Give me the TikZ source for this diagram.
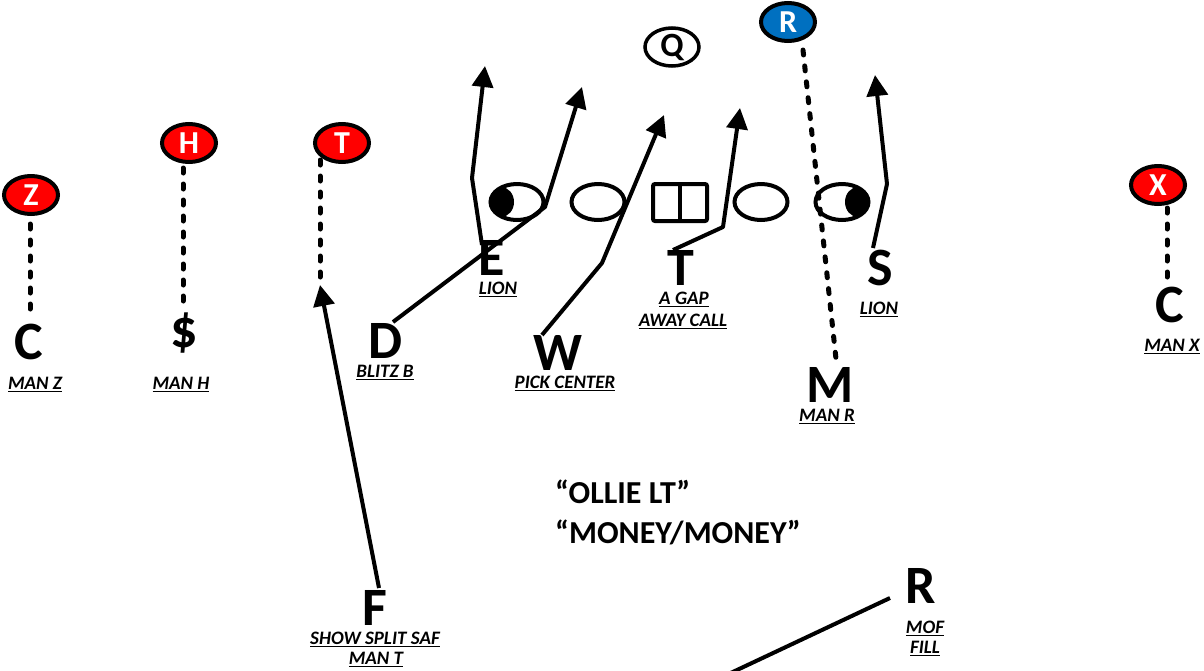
\documentclass[tikz,border=0pt]{standalone}
\usepackage{fontspec}
\setmainfont{Carlito}
\usetikzlibrary{arrows.meta,shapes.geometric}
\definecolor{pred}{HTML}{FF0000}
\definecolor{pblue}{HTML}{0070C0}
\newcommand\ulab[1]{\setbox0\hbox{#1}\rlap{\vrule width\wd0 height -1.6pt depth 3pt}\box0}
\begin{document}
\begin{tikzpicture}[x=1pt,y=-1pt,
  player/.style={ellipse,draw=black,line width=4pt,minimum width=54pt,minimum height=38pt,inner sep=0pt,text=white,font=\fontsize{32}{32}\selectfont\bfseries},
  lineman/.style={ellipse,draw=black,line width=4pt,minimum width=53pt,minimum height=36pt,inner sep=0pt},
  defender/.style={anchor=base,inner sep=0pt,font=\fontsize{54}{54}\selectfont\bfseries},
  note/.style={anchor=base,inner sep=0pt,font=\fontsize{19}{19}\selectfont\bfseries\itshape},
  call/.style={anchor=base west,inner sep=0pt,font=\fontsize{32}{32}\selectfont\bfseries},
  route/.style={line width=4pt,line join=round,-{Triangle[length=21pt,width=21pt]}},
  blitz/.style={line width=4pt,line join=round},
  manline/.style={line width=5pt,line cap=round,dash pattern=on 5pt off 11pt}
]
\useasboundingbox (0,0) rectangle (1204,670);
\clip (0,0) rectangle (1204,670);

% offensive line
\begin{scope}
  \clip (517,202) ellipse [x radius=26.5, y radius=18];
  \fill (501,202) ellipse [x radius=13, y radius=15];
\end{scope}
\begin{scope}
  \clip (842,202) ellipse [x radius=26.5, y radius=18];
  \fill (858,202) ellipse [x radius=13, y radius=15];
\end{scope}
\node[lineman] (LT) at (517,202) {};
\node[lineman] (LG) at (598,202) {};
\node[draw,line width=4pt,minimum width=54pt,minimum height=37pt,rounded corners=2pt,inner sep=0pt] (Cn) at (680,202.5) {};
\draw[line width=4pt] (Cn.north) -- (Cn.south);
\node[lineman] (RG) at (761,202) {};
\node[lineman] (RT) at (842,202) {};

% skill players
\node[player,fill=pred] (Z) at (31,195) {Z};
\node[player,fill=pred] (H) at (189,143) {H};
\node[player,fill=pred] (Tp) at (342,143) {T};
\node[player,fill=pblue] (R) at (788,22) {R};
\node[player,fill=pred] (X) at (1158,185) {X};
\node[player,fill=white,text=black,line width=3.5pt,font=\fontsize{34}{34}\selectfont\bfseries] (Q) at (672,47) {Q};

% defenders
\node[defender] (Cl) at (29,359) {C};
\node[defender] (Dol) at (184,347) {\$};
\node[defender] (D) at (386,358) {D};
\node[defender] (E) at (492,275) {E};
\node[defender] (W) at (558,370) {W};
\node[defender] (T) at (681,285) {T};
\node[defender] (S) at (880,285) {S};
\node[defender] (M) at (830,402) {M};
\node[defender] (Cr) at (1170,322) {C};
\node[defender] (F) at (375,625) {F};
\node[defender] (Rd) at (921,603) {R};

% notes
\node[note] (nZ) at (35,389) {\ulab{MAN Z}};
\node[note] (nH) at (181,389) {\ulab{MAN H}};
\node[note] (nD) at (385,377) {\ulab{BLITZ B}};
\node[note] (nE) at (498,294) {\ulab{LION}};
\node[note] (nW) at (565,388) {\ulab{PICK CENTER}};
\node[note] (nT1) at (684,304) {\ulab{A GAP}};
\node[note] (nT2) at (683,326) {\ulab{AWAY CALL}};
\node[note] (nS) at (879,314) {\ulab{LION}};
\node[note] (nM) at (827,421) {\ulab{MAN R}};
\node[note] (nX) at (1172,351) {\ulab{MAN X}};
\node[note] (nF1) at (375,644) {\ulab{SHOW SPLIT SAF}};
\node[note] (nF2) at (376,664) {\ulab{MAN T}};
\node[note] (nR1) at (925,633) {\ulab{MOF}};
\node[note] (nR2) at (925,653) {\ulab{FILL}};

% calls
\node[call] (c1) at (555,503) {“OLLIE LT”};
\node[call] (c2) at (555,543) {“MONEY/MONEY”};

% coordinates
\coordinate (Es) at (482,245); \coordinate (Eb) at (472,178); \coordinate (Et) at (485,66);
\coordinate (Ds) at (393,322); \coordinate (Db) at (545,207); \coordinate (Dt) at (582,87);
\coordinate (Ws) at (542,335); \coordinate (Wb) at (602,263); \coordinate (Wt) at (664,115);
\coordinate (Ts) at (673,250); \coordinate (Tb) at (723,227); \coordinate (Tt) at (740,108);
\coordinate (Ss) at (873,248); \coordinate (Sb) at (887,184); \coordinate (St) at (875,75);
\coordinate (Fs) at (379,588); \coordinate (Ft) at (320,285);
\coordinate (Rs) at (890,598); \coordinate (Re) at (720,678);
\coordinate (Za) at (30,224); \coordinate (Zb) at (30,311);
\coordinate (Ha) at (183,168); \coordinate (Hb) at (183,303);
\coordinate (Ta) at (320,160); \coordinate (Tb2) at (320,280);
\coordinate (Xa) at (1167,208); \coordinate (Xb) at (1167,288);
\coordinate (Ra) at (803,50); \coordinate (Rb) at (836,359);

% man coverage lines
\draw[manline] (Za) -- (Zb);
\draw[manline] (Ha) -- (Hb);
\draw[manline] (Ta) -- (Tb2);
\draw[manline] (Xa) -- (Xb);
\draw[manline] (Ra) -- (Rb);

% routes
\draw[route] (Es) -- (Eb) -- (Et);
\draw[route] (Ds) -- (Db) -- (Dt);
\draw[route] (Ws) -- (Wb) -- (Wt);
\draw[route] (Ts) -- (Tb) -- (Tt);
\draw[route] (Ss) -- (Sb) -- (St);
\draw[route] (Fs) -- (Ft);
\draw[blitz] (Rs) -- (Re);
\end{tikzpicture}
\end{document}
